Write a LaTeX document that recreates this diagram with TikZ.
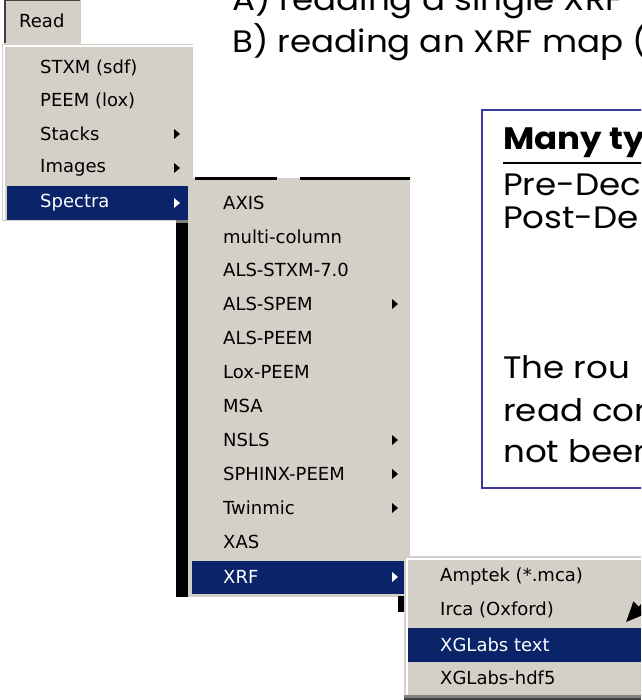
\documentclass[tikz,border=0pt]{standalone}
\usepackage{fontspec}
\setmainfont{DejaVu Sans}
\newfontfamily\comicfont[FakeStretch=1.1]{Poppins}
\usetikzlibrary{arrows.meta}
\definecolor{menugray}{HTML}{D4D0C8}
\definecolor{menunavy}{HTML}{0A246A}
\definecolor{boxblue}{HTML}{3A3A9C}
\definecolor{darkedge}{HTML}{404040}
\tikzset{
 item/.style={anchor=west, inner sep=0pt, font=\fontsize{18}{20}\selectfont, text=black},
 selitem/.style={item, text=white},
 big/.style={anchor=west, inner sep=0pt, font=\comicfont\fontsize{31}{34}\selectfont, text=black},
 bigbold/.style={big, font=\comicfont\bfseries\fontsize{31}{34}\selectfont},
}
\newcommand\subarr[3][black]{\fill[#1] (#2-3,#3-5) -- (#2+3,#3) -- (#2-3,#3+5) -- cycle;}
\begin{document}
\begin{tikzpicture}[x=1pt,y=-1pt]
\useasboundingbox (0,0) rectangle (641,700);
\fill[white] (0,0) rectangle (641,700);
\begin{scope}
\clip (0,0) rectangle (641,700);
% top text
\node[big] (ta) at (232,0) {A) reading a single XRF};
\node[big] (tb) at (232,42) {B) reading an XRF map (};
% blue box
\draw[boxblue, line width=2pt] (482,110) rectangle (660,488);
\node[bigbold] (b1) at (503,143) {Many ty};
\draw[line width=2.5pt] (503,163) -- (660,163);
\node[big] (b2) at (503,185) {Pre-Dec};
\node[big] (b3) at (503,218) {Post-De};
\node[big] (b4) at (503,367) {The rou};
\node[big] (b5) at (503,410) {read cor};
\node[big] (b6) at (503,451) {not beer};
% Read button
\fill[menugray] (4,0) rectangle (82,44);
\fill[darkedge] (4,0) rectangle (6,43);
\fill[darkedge] (6,0) rectangle (80,1);
\fill[white] (81,0) rectangle (83,44);
\node[item] (read) at (19,21) {Read};
% menu 1
\fill[menugray] (2,44) rectangle (193,221);
\fill[white] (4,45.5) rectangle (193,47.5);
\fill[white] (3,45.5) rectangle (4.5,220);
\fill[menunavy] (7,186) rectangle (188,220);
\node[item] (m1a) at (40,68) {STXM (sdf)};
\node[item] (m1b) at (40,101) {PEEM (lox)};
\node[item] (m1c) at (40,134) {Stacks};
\node[item] (m1d) at (40,168) {Images};
\node[selitem] (m1e) at (40,203) {Spectra};
\subarr{177}{134}
\subarr{177}{168}
\subarr[white]{177}{203}
% menu 2
\fill[menugray] (188,178) rectangle (410,597);
\fill[black] (195,177) rectangle (277,180);
\fill[black] (300,177) rectangle (410,180);
\fill[black] (176,221) rectangle (188,597);
\fill[gray] (176,220) rectangle (188,223);
\fill[menunavy] (192,561) rectangle (410,594);
\node[item] (m2a) at (223,203) {AXIS};
\node[item] (m2b) at (223,237) {multi-column};
\node[item] (m2c) at (223,270) {ALS-STXM-7.0};
\node[item] (m2d) at (223,304) {ALS-SPEM};
\node[item] (m2e) at (223,338) {ALS-PEEM};
\node[item] (m2f) at (223,372) {Lox-PEEM};
\node[item] (m2g) at (223,406) {MSA};
\node[item] (m2h) at (223,440) {NSLS};
\node[item] (m2i) at (223,474) {SPHINX-PEEM};
\node[item] (m2j) at (223,508) {Twinmic};
\node[item] (m2k) at (223,542) {XAS};
\node[selitem] (m2l) at (223,577) {XRF};
\subarr{395}{304}
\subarr{395}{440}
\subarr{395}{474}
\subarr{395}{508}
\subarr[white]{395}{577}
\fill[black] (398,596) rectangle (404,612);
% menu 3
\fill[menugray] (404,556) rectangle (641,700);
\fill[white] (406,557.5) rectangle (641,559.5);
\fill[white] (406,557.5) rectangle (408,697);
\fill[gray] (404,695) rectangle (641,697.5);
\fill[darkedge] (404,697.5) rectangle (641,700);
\fill[menunavy] (408,628) rectangle (641,662);
\node[item] (m3a) at (440,577) {Amptek (*.mca)};
\node[item] (m3b) at (440,610) {Irca (Oxford)};
\node[selitem] (m3c) at (440,645) {XGLabs text};
\node[item] (m3d) at (440,678) {XGLabs-hdf5};
% arrow
\coordinate (arrstart) at (672,574);
\coordinate (arrtip) at (626,622);
\draw[line width=3pt, -{Triangle[length=20pt,width=17pt]}] (arrstart) -- (arrtip);
\end{scope}
\end{tikzpicture}
\end{document}
